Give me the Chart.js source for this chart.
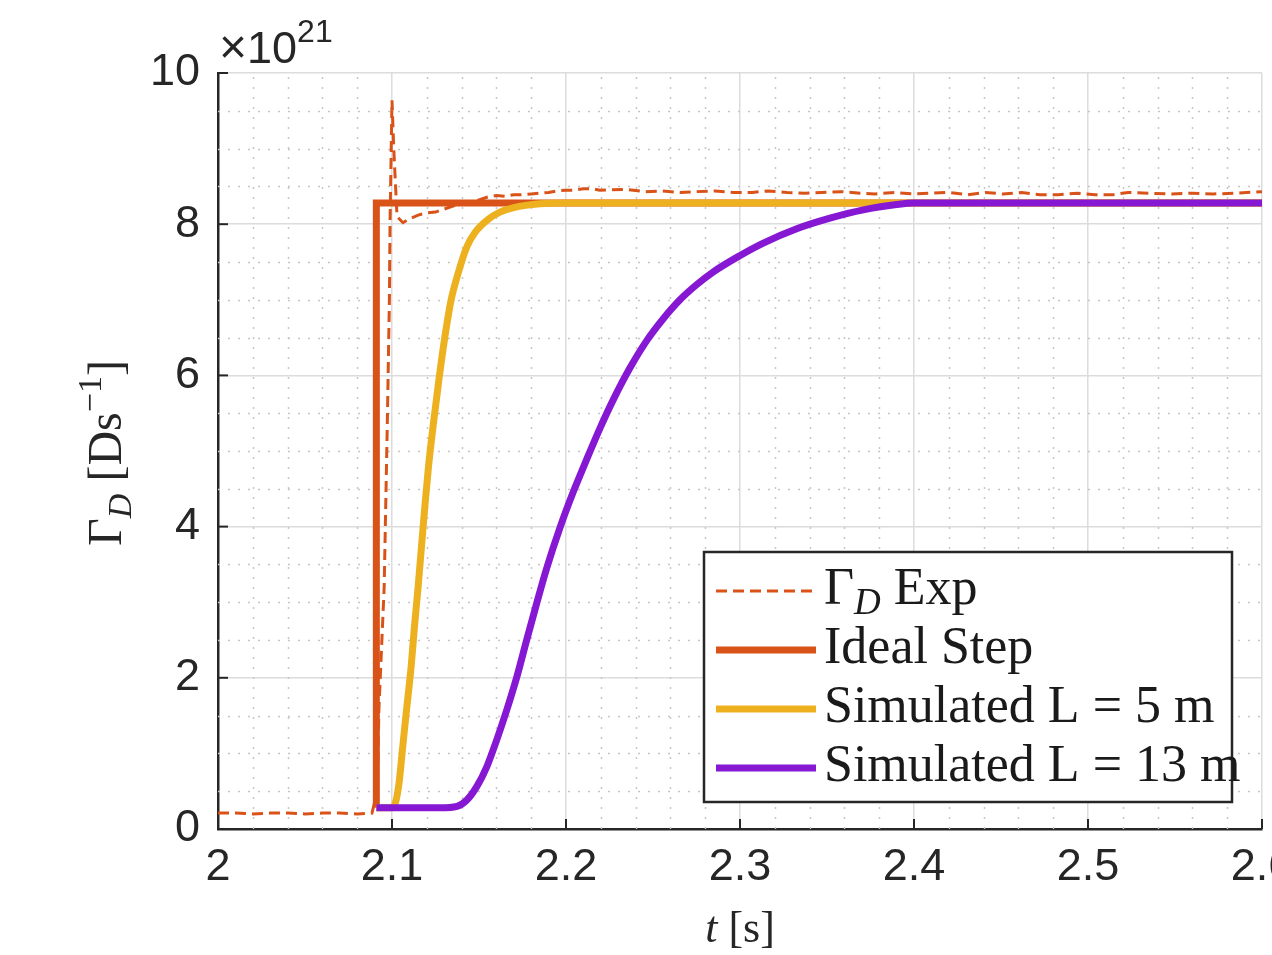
<!DOCTYPE html>
<html>
<head>
<meta charset="utf-8">
<script src="https://cdn.jsdelivr.net/npm/chart.js@4.4.1/dist/chart.umd.min.js"></script>
<style>
  html, body { margin: 0; padding: 0; background: #fff; overflow: hidden; }
  #wrap { width: 1272px; height: 955px; overflow: hidden; }
</style>
</head>
<body>
<div id="wrap"><canvas id="c" width="1320" height="955"></canvas></div>
<script>
// ---- data (x in s, y in units of 1e21 D/s) ----
const tExp = [2.000, 2.010, 2.020, 2.030, 2.040, 2.050, 2.060, 2.070, 2.080, 2.0885,
  2.0915, 2.0925, 2.0955, 2.0973, 2.0985, 2.0989, 2.100, 2.101, 2.1029, 2.1063,
  2.110, 2.115, 2.120, 2.125, 2.130, 2.135, 2.140, 2.145, 2.150, 2.155,
  2.160, 2.165, 2.170, 2.175, 2.180, 2.185, 2.190, 2.195, 2.200, 2.205,
  2.210, 2.215, 2.2195, 2.2345, 2.2454, 2.2546, 2.2655, 2.2741, 2.2856, 2.296,
  2.3069, 2.316, 2.327, 2.3374, 2.347, 2.3586, 2.369, 2.3776, 2.389, 2.3994,
  2.410, 2.4195, 2.431, 2.441, 2.451, 2.462, 2.4724, 2.4828, 2.4937, 2.504,
  2.5144, 2.523, 2.535, 2.548, 2.560, 2.572, 2.585, 2.600];
const gExp = [0.21, 0.21, 0.20, 0.21, 0.21, 0.20, 0.21, 0.21, 0.20, 0.21,
  0.50, 1.60, 3.20, 5.36, 7.00, 8.06, 9.64, 9.00, 8.10, 8.02,
  8.07, 8.12, 8.15, 8.16, 8.20, 8.24, 8.27, 8.30, 8.32, 8.36,
  8.38, 8.37, 8.39, 8.39, 8.40, 8.41, 8.42, 8.44, 8.45, 8.45,
  8.47, 8.47, 8.45, 8.46, 8.43, 8.44, 8.42, 8.43, 8.44, 8.42,
  8.42, 8.44, 8.42, 8.41, 8.42, 8.43, 8.41, 8.40, 8.42, 8.40,
  8.41, 8.42, 8.39, 8.42, 8.40, 8.42, 8.39, 8.39, 8.41, 8.39,
  8.39, 8.42, 8.41, 8.40, 8.41, 8.40, 8.41, 8.43];

const tStep = [2.091, 2.091, 2.600];
const gStep = [0.28, 8.28, 8.28];

const tL5 = [2.091, 2.100, 2.102, 2.104, 2.106, 2.108, 2.111, 2.113, 2.115, 2.117,
  2.119, 2.121, 2.124, 2.127, 2.130, 2.134, 2.138, 2.143, 2.148, 2.155,
  2.162, 2.170, 2.185, 2.200, 2.600];
const gL5 = [0.28, 0.28, 0.35, 0.60, 1.05, 1.50, 2.15, 2.70, 3.20, 3.75,
  4.30, 4.80, 5.40, 5.95, 6.45, 7.00, 7.35, 7.70, 7.90, 8.06,
  8.16, 8.22, 8.27, 8.28, 8.28];

const tL13 = [2.091, 2.1276, 2.1374, 2.1429, 2.1487, 2.1544, 2.1602, 2.1659, 2.1716, 2.1774,
  2.1832, 2.1889, 2.1966, 2.2042, 2.2119, 2.2195, 2.2272, 2.2368, 2.2464, 2.2559,
  2.2655, 2.2751, 2.2847, 2.2996, 2.3134, 2.3326, 2.3517, 2.3709, 2.390, 2.3995, 2.600];
const gL13 = [0.28, 0.28, 0.30, 0.38, 0.56, 0.82, 1.18, 1.57, 2.00, 2.50,
  2.99, 3.45, 3.99, 4.46, 4.89, 5.30, 5.68, 6.10, 6.46, 6.75,
  7.00, 7.20, 7.37, 7.58, 7.75, 7.94, 8.08, 8.19, 8.26, 8.28, 8.28];

const xTicks = [2, 2.1, 2.2, 2.3, 2.4, 2.5, 2.6];
const xTickLabels = ['2', '2.1', '2.2', '2.3', '2.4', '2.5', '2.6'];
const yTicks = [0, 2, 4, 6, 8, 10];
const yTickLabels = ['0', '2', '4', '6', '8', '10'];

const seriesNames = ['\u0393D Exp', 'Ideal Step', 'Simulated L = 5 m', 'Simulated L = 13 m'];

// ---- style ----
const ORANGE = '#d95319';
const YELLOW = '#edb120';
const PURPLE = '#8617d2';
const INK = '#262626';
const SANS = '"Liberation Sans", Arial, sans-serif';
const SERIF = '"Liberation Serif", "Times New Roman", serif';

const pts = (xs, ys) => xs.map((x, i) => ({ x, y: ys[i] }));

function drawRich(ctx, parts, x, y, align) {
  let total = 0;
  parts.forEach(p => { ctx.font = p.f; p.w = ctx.measureText(p.t).width; total += p.w; });
  let cx = align === 'center' ? x - total / 2 : x;
  parts.forEach(p => {
    ctx.font = p.f;
    ctx.fillText(p.t, cx, y + (p.dy || 0));
    cx += p.w;
  });
}

const extras = {
  id: 'extras',
  beforeDatasetsDraw(chart) {
    const { ctx, chartArea: a, scales: { x, y } } = chart;
    ctx.save();
    ctx.strokeStyle = '#c6c6c6';
    ctx.lineWidth = 1.5;
    ctx.setLineDash([2, 8]);
    for (let i = 1; i < 30; i++) {
      if (i % 5 === 0) continue;
      const px = Math.round(x.getPixelForValue(2 + i * 0.02)) + 0.5;
      ctx.beginPath(); ctx.moveTo(px, a.bottom); ctx.lineTo(px, a.top); ctx.stroke();
    }
    for (let i = 1; i < 20; i++) {
      if (i % 4 === 0) continue;
      const py = Math.round(y.getPixelForValue(i * 0.5)) + 0.5;
      ctx.beginPath(); ctx.moveTo(a.left, py); ctx.lineTo(a.right, py); ctx.stroke();
    }
    ctx.restore();
  },
  afterDraw(chart) {
    const { ctx, chartArea: a, scales: { x, y } } = chart;
    ctx.save();
    // inward ticks
    ctx.strokeStyle = INK;
    ctx.lineWidth = 2;
    xTicks.forEach(v => {
      const px = x.getPixelForValue(v);
      ctx.beginPath(); ctx.moveTo(px, a.bottom); ctx.lineTo(px, a.bottom - 10); ctx.stroke();
    });
    yTicks.forEach(v => {
      const py = y.getPixelForValue(v);
      ctx.beginPath(); ctx.moveTo(a.left, py); ctx.lineTo(a.left + 10, py); ctx.stroke();
    });

    ctx.fillStyle = INK;
    ctx.textBaseline = 'alphabetic';
    // exponent
    drawRich(ctx, [
      { t: '\u00d7', f: `300 48px ${SANS}` },
      { t: '10', f: `45px ${SANS}` },
      { t: '21', f: `32px ${SANS}`, dy: -21 }
    ], a.left + 1, a.top - 10, 'left');

    // x title
    drawRich(ctx, [
      { t: 't', f: `italic 44px ${SERIF}` },
      { t: ' [s]', f: `44px ${SERIF}` }
    ], (a.left + a.right) / 2, 942, 'center');

    // y title
    ctx.save();
    ctx.translate(121, (a.top + a.bottom) / 2 + 2);
    ctx.rotate(-Math.PI / 2);
    drawRich(ctx, [
      { t: '\u0393', f: `48px ${SERIF}` },
      { t: 'D', f: `italic 34px ${SERIF}`, dy: 10 },
      { t: ' [Ds', f: `48px ${SERIF}` },
      { t: '\u22121', f: `34px ${SERIF}`, dy: -20 },
      { t: ']', f: `48px ${SERIF}` }
    ], 0, 0, 'center');
    ctx.restore();

    // legend
    const bx = a.left + 486, by = a.top + 479, bw = 528, bh = 250;
    ctx.fillStyle = '#fff';
    ctx.fillRect(bx, by, bw, bh);
    ctx.strokeStyle = INK;
    ctx.lineWidth = 2.5;
    ctx.strokeRect(bx, by, bw, bh);
    chart.data.datasets.forEach((ds, i) => {
      const ly = by + 39 + i * 59;
      ctx.save();
      ctx.strokeStyle = ds.borderColor;
      ctx.lineWidth = ds.borderWidth;
      ctx.setLineDash(ds.borderDash || []);
      ctx.beginPath(); ctx.moveTo(bx + 12, ly); ctx.lineTo(bx + 112, ly); ctx.stroke();
      ctx.restore();
      ctx.fillStyle = '#1a1a1a';
      const name = seriesNames[i];
      const parts = name.startsWith('\u0393D')
        ? [{ t: '\u0393', f: `52px ${SERIF}` }, { t: 'D', f: `italic 37px ${SERIF}`, dy: 10 }, { t: name.slice(2), f: `52px ${SERIF}` }]
        : [{ t: name, f: `52px ${SERIF}` }];
      drawRich(ctx, parts, bx + 120, ly + 13, 'left');
    });
    ctx.restore();
  }
};

new Chart(document.getElementById('c'), {
  type: 'line',
  data: {
    datasets: [
      { label: seriesNames[0], data: pts(tExp, gExp), borderColor: ORANGE, borderWidth: 3,
        borderDash: [11, 6], pointRadius: 0, tension: 0, order: 3 },
      { label: seriesNames[1], data: pts(tStep, gStep), borderColor: ORANGE, borderWidth: 7,
        pointRadius: 0, tension: 0, order: 2 },
      { label: seriesNames[2], data: pts(tL5, gL5), borderColor: YELLOW, borderWidth: 7,
        pointRadius: 0, cubicInterpolationMode: 'monotone', order: 1 },
      { label: seriesNames[3], data: pts(tL13, gL13), borderColor: PURPLE, borderWidth: 7,
        pointRadius: 0, cubicInterpolationMode: 'monotone', order: 0 }
    ]
  },
  options: {
    responsive: false,
    devicePixelRatio: 1,
    animation: false,
    layout: { padding: { left: 138, top: 73, right: 58, bottom: 0 } },
    plugins: { legend: { display: false }, tooltip: { enabled: false } },
    scales: {
      x: {
        type: 'linear', min: 2, max: 2.6,
        afterFit(s) { s.height = 126; },
        afterBuildTicks(s) { s.ticks = xTicks.map(v => ({ value: v })); },
        ticks: { autoSkip: false, maxRotation: 0, color: INK, padding: 12,
          font: { family: SANS, size: 45 },
          callback: (v, i) => xTickLabels[i] },
        grid: { color: '#dcdcdc', lineWidth: 1.5, drawTicks: false },
        border: { color: INK, width: 2.5 }
      },
      y: {
        type: 'linear', min: 0, max: 10,
        afterFit(s) { s.width = 80; },
        afterBuildTicks(s) { s.ticks = yTicks.map(v => ({ value: v })); },
        ticks: { color: INK, padding: 18, font: { family: SANS, size: 45 },
          callback: (v, i) => yTickLabels[i] },
        grid: { color: '#dcdcdc', lineWidth: 1.5, drawTicks: false },
        border: { color: INK, width: 2.5 }
      }
    }
  },
  plugins: [extras]
});
</script>
</body>
</html>
